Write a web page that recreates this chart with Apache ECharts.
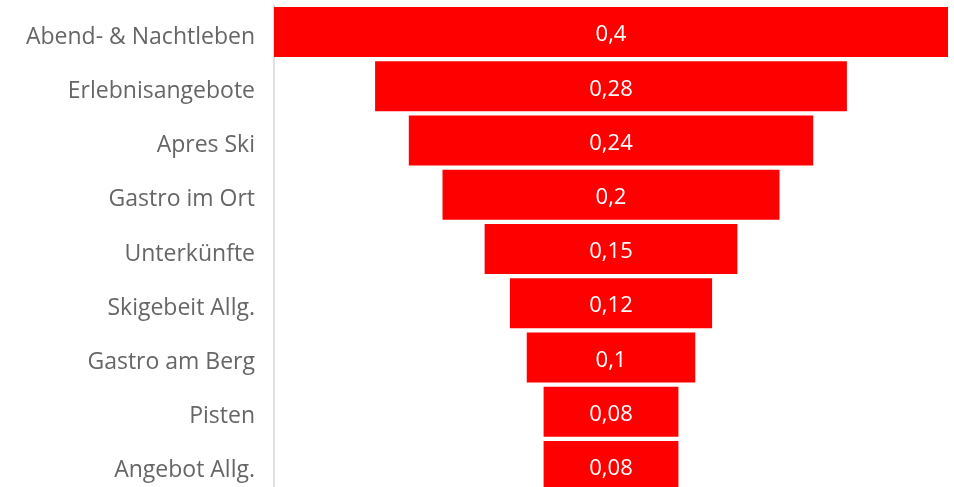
<!DOCTYPE html>
<html>
<head>
<meta charset="utf-8">
<script src="https://cdn.jsdelivr.net/npm/echarts@6/dist/echarts.min.js"></script>
<style>
  html, body { margin: 0; padding: 0; background: #fff; }
  #chart { width: 954px; height: 487px; }
</style>
</head>
<body>
<div id="chart"></div>
<script>
// Funnel-style centred bars: share of mentions per topic
const categories = [
  'Abend- & Nachtleben', 'Erlebnisangebote', 'Apres Ski', 'Gastro im Ort',
  'Unterkünfte', 'Skigebeit Allg.', 'Gastro am Berg', 'Pisten', 'Angebot Allg.'
];
const values = [0.4, 0.28, 0.24, 0.2, 0.15, 0.12, 0.1, 0.08, 0.08];

const maxValue = Math.max(...values);
// invisible spacer so each bar sits centred on the widest one
const spacer = values.map(v => (maxValue - v) / 2);

const chart = echarts.init(document.getElementById('chart'));
chart.setOption({
  animation: false,
  grid: {
    left: 274, right: 6, top: 5, bottom: -6,
    containLabel: false, outerBoundsMode: 'none'
  },
  xAxis: {
    type: 'value', min: 0, max: maxValue, show: false
  },
  yAxis: {
    type: 'category',
    data: categories,
    inverse: true,
    offset: 2,
    axisLine: { show: true, lineStyle: { color: '#d6d6d6', width: 1.5 } },
    axisTick: { show: false },
    axisLabel: {
      margin: 17,
      formatter: v => '{t|' + v + '}',
      rich: {
        t: {
          color: '#666666',
          fontFamily: 'Open Sans',
          fontSize: 23,
          padding: [10, 0, 0, 0]
        }
      }
    }
  },
  series: [
    {
      type: 'bar', stack: 'f', silent: true,
      data: spacer,
      itemStyle: { color: 'rgba(0,0,0,0)' },
      barWidth: 50
    },
    {
      type: 'bar', stack: 'f',
      data: values,
      barWidth: 50,
      itemStyle: { color: '#ff0000' },
      label: {
        show: true,
        position: 'inside',
        offset: [0, 3],
        color: '#ffffff',
        fontFamily: 'Open Sans',
        fontSize: 22,
        formatter: p => String(p.value).replace('.', ',')
      }
    }
  ]
});
</script>
</body>
</html>
